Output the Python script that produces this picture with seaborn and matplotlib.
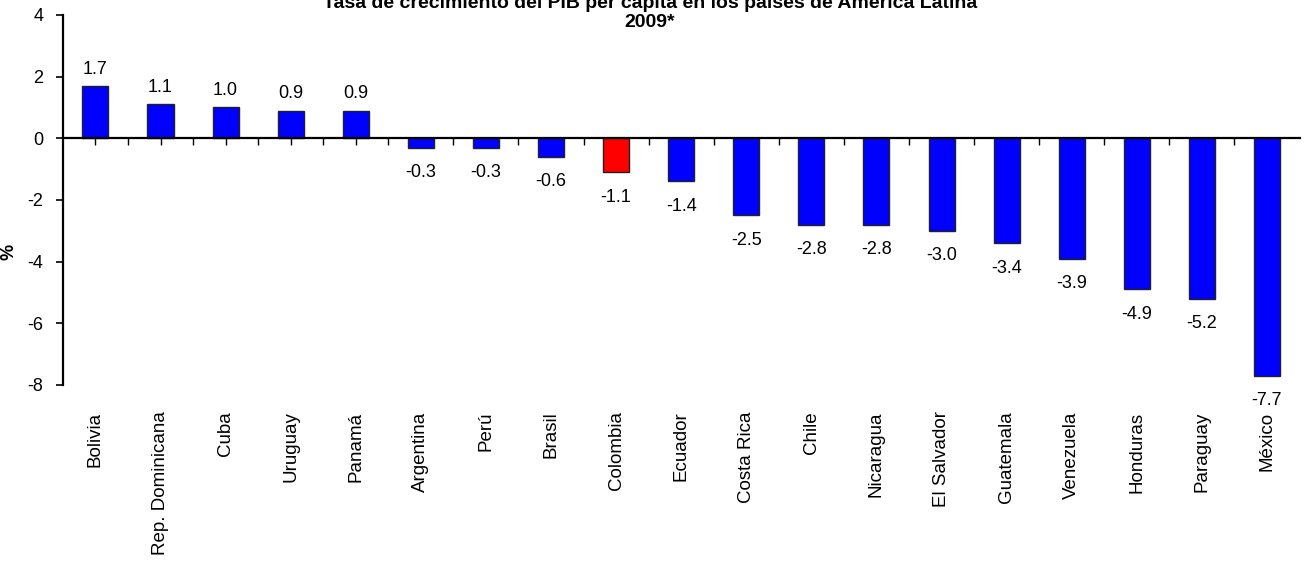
import matplotlib
matplotlib.use("Agg")
import matplotlib.pyplot as plt
import pandas as pd
import seaborn as sns

paises = ["Bolivia", "Rep. Dominicana", "Cuba", "Uruguay", "Panamá", "Argentina",
          "Perú", "Brasil", "Colombia", "Ecuador", "Costa Rica", "Chile",
          "Nicaragua", "El Salvador", "Guatemala", "Venezuela", "Honduras",
          "Paraguay", "México"]
crecimiento = [1.7, 1.1, 1.0, 0.9, 0.9, -0.3, -0.3, -0.6, -1.1, -1.4, -2.5,
               -2.8, -2.8, -3.0, -3.4, -3.9, -4.9, -5.2, -7.7]
destacado = "Colombia"

sns.set_style("white")
plt.rcParams["font.family"] = ["Liberation Sans", "DejaVu Sans"]
plt.rcParams["axes.unicode_minus"] = False
plt.rcParams["text.color"] = "black"
plt.rcParams["axes.labelcolor"] = "black"
plt.rcParams["axes.edgecolor"] = "black"
plt.rcParams["xtick.color"] = "black"
plt.rcParams["ytick.color"] = "black"

df = pd.DataFrame({"pais": paises, "valor": crecimiento})
colores = {p: ("#FF0000" if p == destacado else "#0000FF") for p in paises}

fig = plt.figure(figsize=(13.1, 5.65), dpi=100)
ax = fig.add_axes([0.048, 0.3186, 0.944, 0.655])

sns.barplot(data=df, x="pais", y="valor", hue="pais", palette=colores,
            saturation=1, width=0.4, edgecolor="#222222", linewidth=1,
            legend=False, ax=ax)

for c in ax.containers:
    pad = 6 if c.datavalues[0] >= 0 else 12
    ax.bar_label(c, fmt="%.1f", padding=pad, fontsize=13, color="black")

ax.set_ylim(-8, 4)
ax.set_xlim(-0.5, len(paises) - 0.5)
ax.set_yticks([-8, -6, -4, -2, 0, 2, 4])
ax.tick_params(axis="y", direction="out", length=5, width=1.2, labelsize=13,
               left=True, pad=9)
ax.set_ylabel("%", fontsize=13, fontweight="bold")
ax.yaxis.set_label_coords(-0.037, 0.36)
ax.set_xlabel("")

# eje x en cero con marcas en centros y bordes
ax.spines["bottom"].set_position(("data", 0))
ax.spines["bottom"].set_linewidth(1.6)
ax.spines["left"].set_linewidth(1.6)
ax.spines["top"].set_visible(False)
ax.spines["right"].set_visible(False)
ax.set_xticks(range(len(paises)))
ax.set_xticks([i + 0.5 for i in range(len(paises) - 1)], minor=True)
ax.tick_params(axis="x", which="both", direction="out", length=5, width=1,
               bottom=True, labelbottom=False)

# nombres de los países bajo el gráfico
sec = ax.secondary_xaxis(0.0)
sec.set_xticks(range(len(paises)))
sec.set_xticklabels(paises, rotation=90, fontsize=13.5)
sec.tick_params(axis="x", length=0, pad=19)
sec.spines["bottom"].set_visible(False)

fig.text(0.496, 1 - 31 / 565,
         "Tasa de crecimiento del PIB per cápita en los países de América Latina\n2009*",
         ha="center", va="bottom", fontsize=14, fontweight="bold", linespacing=1.15)

fig.savefig("out.png", dpi=100)
